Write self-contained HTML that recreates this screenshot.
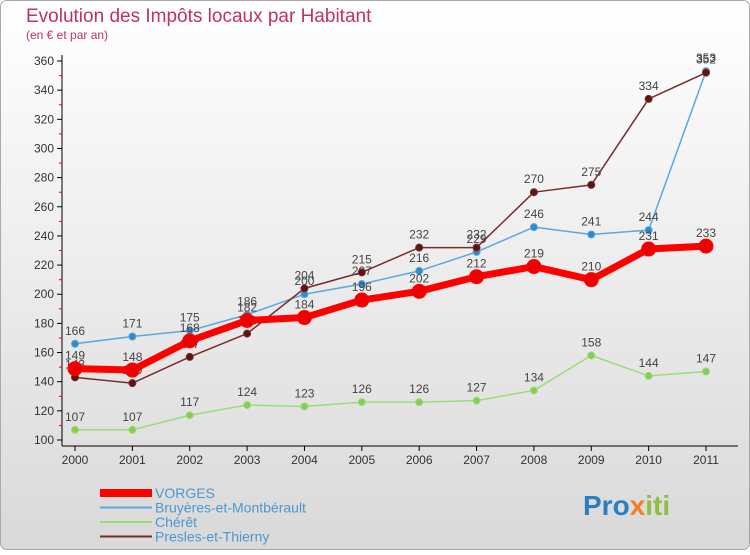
<!DOCTYPE html>
<html><head><meta charset="utf-8"><style>
html,body{margin:0;padding:0}
body{width:750px;height:550px;overflow:hidden;font-family:"Liberation Sans",sans-serif}
</style></head><body>
<svg id="chart" width="750" height="550" xmlns="http://www.w3.org/2000/svg" font-family="Liberation Sans, sans-serif">
<defs><linearGradient id="bg" x1="0" y1="0" x2="0" y2="1"><stop offset="0" stop-color="#ffffff"/><stop offset="1" stop-color="#d9d9d9"/></linearGradient></defs>
<rect x="0.5" y="0.5" width="749" height="549" rx="6" fill="url(#bg)" stroke="#aaa"/>
<text x="26" y="22" font-size="19" fill="#c0306a">Evolution des Impôts locaux par Habitant</text>
<text x="26" y="39" font-size="12" fill="#c0306a">(en € et par an)</text>
<g id="axes"></g>
<g id="series"></g>
<g id="legend"></g>
<text x="583" y="515" font-size="28" font-weight="bold" fill="#2a7fc0">Pro<tspan fill="#f08020">x</tspan><tspan fill="#8bc040">iti</tspan></text>
</svg>
<script>
const years=[2000,2001,2002,2003,2004,2005,2006,2007,2008,2009,2010,2011];
const yTicks=[100,120,140,160,180,200,220,240,260,280,300,320,340,360];
const vorges=[149,148,168,182,184,196,202,212,219,210,231,233];
const bruyeres=[166,171,175,186,200,207,216,229,246,241,244,353];
const cheret=[107,107,117,124,123,126,126,127,134,158,144,147];
const presles=[143,139,157,173,204,215,232,232,270,275,334,352];
const seriesNames=["VORGES","Bruyères-et-Montbérault","Chérêt","Presles-et-Thierny"];
const NS="http://www.w3.org/2000/svg";
const xS=i=>75+i*(706-75)/11;
const yS=v=>440-(v-100)*(440-61)/260;
function mk(tag,attrs,parent){const e=document.createElementNS(NS,tag);for(const k in attrs)e.setAttribute(k,attrs[k]);parent.appendChild(e);return e;}
const axes=document.getElementById('axes');
let yl=mk('line',{x1:62,y1:55,x2:62,y2:446,stroke:'#000'},axes);


let xl=mk('line',{x1:62,y1:446,x2:738,y2:446,stroke:'#000'},axes);


yTicks.forEach((v,k)=>{
  const y=yS(v);
  mk('line',{x1:57,y1:y,x2:62,y2:y,stroke:'#000'},axes);
  if(k>0) mk('line',{x1:59,y1:y+14.6,x2:62,y2:y+14.6,stroke:'#e00'},axes);
  const t=mk('text',{x:54,y:y+4,'font-size':12,'text-anchor':'end',fill:'#333'},axes);
  t.textContent=v;
  
  
});
years.forEach((yr,i)=>{
  const x=xS(i);
  mk('line',{x1:x,y1:446,x2:x,y2:451,stroke:'#000'},axes);
  const t=mk('text',{x:x,y:464,'font-size':12,'text-anchor':'middle',fill:'#333'},axes);
  t.textContent=yr;
  
  
});
const sg=document.getElementById('series');
function draw(data,color,w,r,name,fill){
  const g=mk('g',{},sg);
  
  
  mk('polyline',{points:data.map((v,i)=>xS(i)+','+yS(v)).join(' '),fill:'none',stroke:color,'stroke-width':w,'stroke-linejoin':'round'},g);
  data.forEach((v,i)=>{
    const c=mk('circle',{cx:xS(i),cy:yS(v),r:r,fill:fill,stroke:color,'stroke-width':1},g);
    
    
    const t=mk('text',{x:xS(i),y:yS(v)-9,'font-size':12,'text-anchor':'middle',fill:'#444'},g);
    t.textContent=v;
    
    
  });
}
draw(cheret,'#99dd77',1.5,3.5,'cheret','#88cc55');
draw(bruyeres,'#5aa8dd',1.5,3.5,'bruyeres','#3388cc');
draw(presles,'#7a2a2a',1.5,3.5,'presles','#5a1515');
draw(vorges,'#ff0000',7,7,'vorges','#ee0000');
const lg=document.getElementById('legend');
const lcol=['#ff0000','#5aa8dd','#99dd77','#7a2a2a'];
const lw=[8,2,2,2];
seriesNames.forEach((n,i)=>{
  const y=493+i*14.5;
  const g=mk('g',{},lg);
  
  
  mk('line',{x1:100,y1:y,x2:152,y2:y,stroke:lcol[i],'stroke-width':lw[i]},g);
  const t=mk('text',{x:155,y:y+5,'font-size':14,fill:'#4a98d0'},g);
  t.textContent=n;
});
</script>
</body></html>
